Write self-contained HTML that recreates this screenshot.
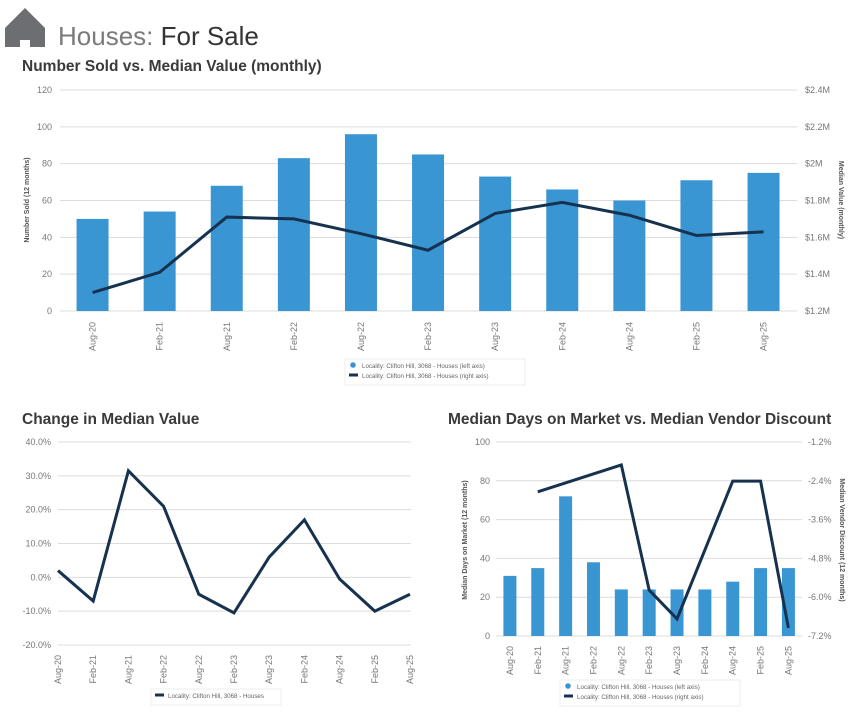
<!DOCTYPE html>
<html><head><meta charset="utf-8"><style>
body{margin:0;background:#fff;width:852px;height:711px;overflow:hidden;font-family:"Liberation Sans",sans-serif}
svg text{font-family:"Liberation Sans",sans-serif}
</style></head><body>
<svg id="s" width="852" height="711" xmlns="http://www.w3.org/2000/svg">
<g><polygon points="5,28 25,8 45,28 45,47 30,47 30,40 20,40 20,47 5,47" fill="#6d6e71"/></g>
<text x="58" y="45" font-size="26" fill="#7a7b7d">Houses: <tspan fill="#333">For Sale</tspan></text>
<text x="22" y="71" font-size="15.5" font-weight="bold" fill="#3a3a3a">Number Sold vs. Median Value (monthly)</text>
<text x="22" y="424" font-size="15.5" font-weight="bold" fill="#3a3a3a">Change in Median Value</text>
<text x="448" y="424" font-size="15.5" font-weight="bold" fill="#3a3a3a">Median Days on Market vs. Median Vendor Discount</text>
<g id="c1"></g>
<g id="c2"></g>
<g id="c3"></g>
</svg>
<script>
const categories=["Aug-20","Feb-21","Aug-21","Feb-22","Aug-22","Feb-23","Aug-23","Feb-24","Aug-24","Feb-25","Aug-25"];
const soldValues=[50,54,68,83,96,85,73,66,60,71,75];
const medianValues=[1.30,1.41,1.71,1.70,1.62,1.53,1.73,1.79,1.72,1.61,1.63];
const soldTicks=[0,20,40,60,80,100,120];
const medianTicks=[1.2,1.4,1.6,1.8,2.0,2.2,2.4];
const changeValues=[2,-7,31.5,21,-5,-10.5,6,17,-0.5,-10,-5];
const changeTicks=[-20,-10,0,10,20,30,40];
const domValues=[31,35,72,38,24,24,24,24,28,35,35];
const discountValues=[null,-2.74,null,null,-1.91,-5.78,-6.67,null,-2.41,-2.41,-6.95];
const domTicks=[0,20,40,60,80,100];
const discountTicks=[-7.2,-6.0,-4.8,-3.6,-2.4,-1.2];
const NS="http://www.w3.org/2000/svg";
function mk(p,t,a,txt){const e=document.createElementNS(NS,t);for(const k in a)e.setAttribute(k,a[k]);if(txt!==undefined)e.textContent=txt;p.appendChild(e);return e;}
const BAR="#3a96d2",LINE="#17324f",GRID="#dcdcdc",TXT="#777";
function lin(d0,d1,r0,r1){return v=>r0+(v-d0)*(r1-r0)/(d1-d0);}
function xLabels(g,xs,y){categories.forEach((c,i)=>{const t=mk(g,"text",{x:xs(i),y:y,"font-size":9,fill:TXT,"text-anchor":"end",transform:`rotate(-90 ${xs(i)+3} ${y})`},c);

});}
function linePath(g,xs,ys,vals,w){let d="";vals.forEach((v,i)=>{if(v===null)return;d+=(d?"L":"M")+xs(i)+","+ys(v);});const p=mk(g,"path",{d:d,fill:"none",stroke:LINE,"stroke-width":w,"stroke-linejoin":"miter"});

}
function legend(g,cx,y,items){const w=items.length>1?180:130;const b=mk(g,"rect",{x:cx-w/2,y:y-8,width:w,height:items.length*10+6,fill:"#fff",stroke:"#eee"});


items.forEach((it,i)=>{const yy=y+i*10;if(it[0]=="dot")mk(g,"circle",{cx:cx-w/2+8,cy:yy-2,r:2.8,fill:BAR});else mk(g,"rect",{x:cx-w/2+4,y:yy-3.5,width:9,height:3,fill:LINE});
const t=mk(g,"text",{x:cx-w/2+17,y:yy+1,"font-size":6.2,fill:"#666"},it[1]);

});}
// Chart 1
(function(){const g=document.getElementById("c1");const x0=59,step=67.1;const xs=i=>x0+step*(i+0.5);
const yL=lin(0,120,311,90),yR=lin(1.2,2.4,311,90);
soldTicks.forEach(v=>{mk(g,"line",{x1:60,x2:797,y1:yL(v),y2:yL(v),stroke:GRID});const t=mk(g,"text",{x:52,y:yL(v)+3,"font-size":9,fill:TXT,"text-anchor":"end"},v);

});
medianTicks.forEach(v=>{const t=mk(g,"text",{x:805,y:yR(v)+3,"font-size":9,fill:TXT},"$"+v.toFixed(1).replace(".0","")+"M");

});
soldValues.forEach((v,i)=>{const r=mk(g,"rect",{x:xs(i)-16,y:yL(v),width:32,height:yL(0)-yL(v),fill:BAR});

});
linePath(g,xs,yR,medianValues,3);
xLabels(g,xs,319);
let t=mk(g,"text",{x:0,y:0,"font-size":7,"font-weight":"bold",fill:"#555","text-anchor":"middle",transform:"translate(29 200) rotate(-90)"},"Number Sold (12 months)");

t=mk(g,"text",{x:0,y:0,"font-size":7,"font-weight":"bold",fill:"#555","text-anchor":"middle",transform:"translate(839 200) rotate(90)"},"Median Value (monthly)");

legend(g,435,367,[["dot","Locality: Clifton Hill, 3068 - Houses (left axis)"],["line","Locality: Clifton Hill, 3068 - Houses (right axis)"]]);})();
// Chart 2
(function(){const g=document.getElementById("c2");const xs=i=>58+i*35.2;const y=lin(-20,40,645,442);
changeTicks.forEach(v=>{mk(g,"line",{x1:58,x2:411,y1:y(v),y2:y(v),stroke:GRID});const t=mk(g,"text",{x:51,y:y(v)+3,"font-size":9,fill:TXT,"text-anchor":"end"},v.toFixed(1)+"%");

});
linePath(g,xs,y,changeValues,3);
xLabels(g,xs,652);
legend(g,216,697,[["line","Locality: Clifton Hill, 3068 - Houses"]]);})();
// Chart 3
(function(){const g=document.getElementById("c3");const x0=496,step=27.85;const xs=i=>x0+step*(i+0.5);
const yL=lin(0,100,636,442),yR=lin(-7.2,-1.2,636,442);
domTicks.forEach(v=>{mk(g,"line",{x1:496,x2:802,y1:yL(v),y2:yL(v),stroke:GRID});const t=mk(g,"text",{x:490,y:yL(v)+3,"font-size":9,fill:TXT,"text-anchor":"end"},v);

});
discountTicks.forEach(v=>{const t=mk(g,"text",{x:808,y:yR(v)+3,"font-size":9,fill:TXT},v.toFixed(1)+"%");

});
domValues.forEach((v,i)=>{const r=mk(g,"rect",{x:xs(i)-6.5,y:yL(v),width:13,height:yL(0)-yL(v),fill:BAR});

});
linePath(g,xs,yR,discountValues,3);
xLabels(g,xs,643);
let t=mk(g,"text",{x:0,y:0,"font-size":7,"font-weight":"bold",fill:"#555","text-anchor":"middle",transform:"translate(467 540) rotate(-90)"},"Median Days on Market (12 months)");

t=mk(g,"text",{x:0,y:0,"font-size":7,"font-weight":"bold",fill:"#555","text-anchor":"middle",transform:"translate(840 540) rotate(90)"},"Median Vendor Discount (12 months)");

legend(g,650,688,[["dot","Locality: Clifton Hill, 3068 - Houses (left axis)"],["line","Locality: Clifton Hill, 3068 - Houses (right axis)"]]);})();
</script>
</body></html>
